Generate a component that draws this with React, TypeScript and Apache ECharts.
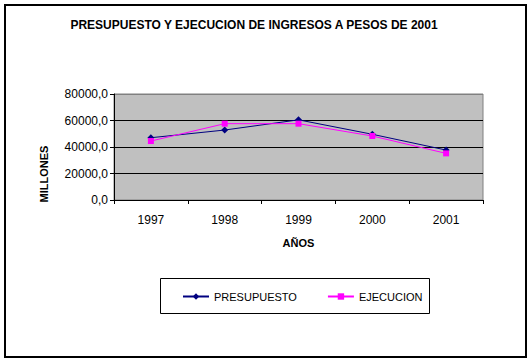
import React, { useEffect, useRef } from "react";
import * as echarts from "echarts";

const categories = ["1997", "1998", "1999", "2000", "2001"];
const presupuesto = [47000, 52800, 60500, 49600, 37700];
const ejecucion = [44500, 57600, 57600, 48300, 35200];
const yTicks = [0, 20000, 40000, 60000, 80000];

const FONT = "Arial, 'Liberation Sans', sans-serif";

export default function App() {
  const ref = useRef<HTMLDivElement>(null);
  useEffect(() => {
    if (!ref.current) return;
    const chart = echarts.init(ref.current, null, { renderer: "svg" });
    chart.setOption({
      animation: false,
      backgroundColor: "#ffffff",
      title: {
        text: "PRESUPUESTO Y EJECUCION DE INGRESOS A PESOS DE 2001",
        left: 249,
        textAlign: "center",
        top: 14,
        textStyle: { fontFamily: FONT, fontSize: 12, fontWeight: "bold", color: "#000" },
      },
      grid: { left: 114, right: 49, top: 94, bottom: 164, show: true, backgroundColor: "#C0C0C0", borderColor: "#808080", borderWidth: 1 },
      xAxis: {
        type: "category",
        data: categories,
        boundaryGap: true,
        axisLine: { lineStyle: { color: "#000", width: 1 } },
        axisTick: { show: true, length: 4, lineStyle: { color: "#000" } },
        axisLabel: { fontFamily: FONT, fontSize: 12, color: "#000", margin: 14 },
        name: "AÑOS",
        nameLocation: "middle",
        nameGap: 37,
        nameTextStyle: { fontFamily: FONT, fontSize: 11, fontWeight: "bold", color: "#000" },
      },
      yAxis: {
        type: "value",
        min: yTicks[0],
        max: yTicks[yTicks.length - 1],
        interval: 20000,
        axisLine: { show: true, lineStyle: { color: "#000", width: 1 } },
        axisTick: { show: true, length: 4, lineStyle: { color: "#000" } },
        axisLabel: {
          fontFamily: FONT,
          fontSize: 12,
          color: "#000",
          margin: 6,
          formatter: (v: number) => v.toFixed(1).replace(".", ","),
        },
        splitLine: { show: true, lineStyle: { color: ["#000", "#000", "#000", "#000", "#808080"], width: 1 } },
      },
      legend: {
        left: 177,
        top: 286,
        itemWidth: 26,
        itemHeight: 8,
        itemGap: 30,
        textStyle: { fontFamily: FONT, fontSize: 11, color: "#000" },
        data: ["PRESUPUESTO", "EJECUCION"],
      },
      graphic: [
        { type: "rect", shape: { x: 5, y: 5, width: 521, height: 352 }, style: { fill: "none", stroke: "#000", lineWidth: 2 }, z: 10 },
        { type: "rect", shape: { x: 160.5, y: 278.5, width: 269, height: 35 }, style: { fill: "none", stroke: "#000", lineWidth: 1 }, z: 10 },
        {
          type: "text",
          x: 44,
          y: 174,
          rotation: Math.PI / 2,
          style: { text: "MILLONES", fontFamily: FONT, fontSize: 11, fontWeight: "bold", fill: "#000", align: "center", verticalAlign: "middle" },
          z: 10,
        },
      ],
      series: [
        {
          name: "PRESUPUESTO",
          type: "line",
          data: presupuesto,
          symbol: "diamond",
          symbolSize: 7,
          lineStyle: { color: "#000080", width: 1 },
          itemStyle: { color: "#000080" },
        },
        {
          name: "EJECUCION",
          type: "line",
          data: ejecucion,
          symbol: "rect",
          symbolSize: 6,
          lineStyle: { color: "#FF00FF", width: 1 },
          itemStyle: { color: "#FF00FF" },
        },
      ],
    });
    return () => chart.dispose();
  }, []);
  return <div ref={ref} style={{ position: "fixed", left: 0, top: 0, width: 532, height: 364 }} />;
}
